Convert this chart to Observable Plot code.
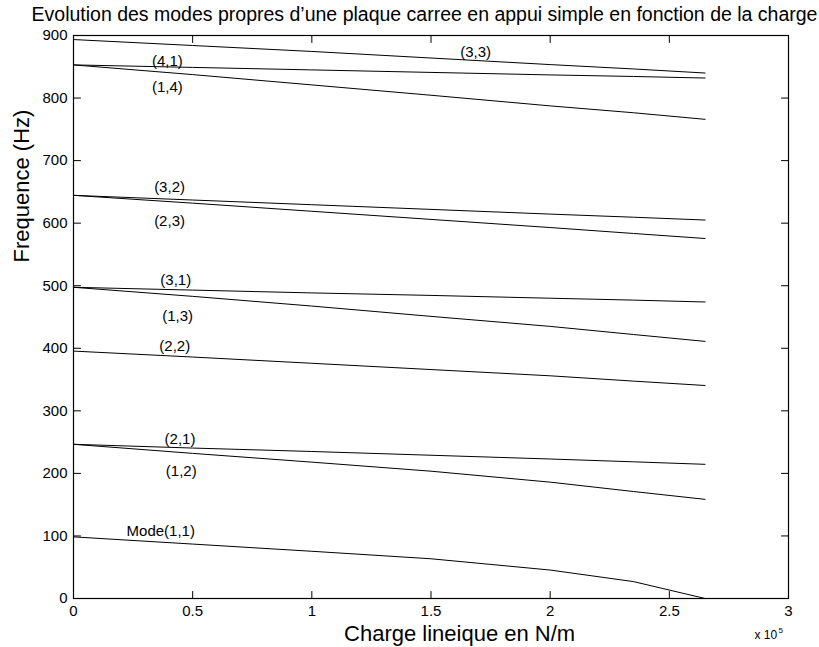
<!DOCTYPE html>
<html>
<head>
<meta charset="utf-8">
<script src="https://cdn.jsdelivr.net/npm/d3@7"></script>
<script src="https://cdn.jsdelivr.net/npm/@observablehq/plot@0.6"></script>
<style>
  body { margin: 0; background: #fff; }
  #chart svg { font-family: "Liberation Sans", Arial, Helvetica, sans-serif; display: block; }
</style>
</head>
<body>
<div id="chart"></div>
<script>
// Charge lineique (x 10^5 N/m)
const load = [0, 0.5, 1, 1.5, 2, 2.35, 2.65];

// Frequences (Hz) of each mode at those loads
const modeNames = ["(1,1)", "(2,1)", "(1,2)", "(2,2)", "(3,1)", "(1,3)", "(3,2)", "(2,3)", "(4,1)", "(1,4)", "(3,3)"];
const f11 = [98.5, 87, 75.5, 63.5, 45.5, 27, 0];
const f21 = [246.5, 240.5, 235, 229, 223, 218.5, 214.5];
const f12 = [246.5, 232, 218, 203.5, 186, 171, 158.5];
const f22 = [395.5, 386, 376, 366, 356, 347.5, 340.5];
const f31 = [497.5, 493, 488.5, 484.5, 480, 477, 474];
const f13 = [497.5, 483, 467.5, 451, 435, 422, 411];
const f32 = [644.5, 637, 629.5, 622, 614.5, 609.5, 605];
const f23 = [644.5, 632, 619, 606, 593, 583.5, 575.5];
const f41 = [853, 849, 845, 841, 837, 834.5, 832];
const f14 = [853, 837.5, 821, 804.5, 787.5, 776.5, 766];
const f33 = [893.5, 884, 874.5, 864, 853.5, 846.5, 840];

// In-plot annotations (data coordinates)
const labelText = ["(3,3)", "(4,1)", "(1,4)", "(3,2)", "(2,3)", "(3,1)", "(1,3)", "(2,2)", "(2,1)", "(1,2)", "Mode(1,1)"];
const labelX = [1.687, 0.394, 0.394, 0.403, 0.403, 0.429, 0.437, 0.425, 0.447, 0.452, 0.366];
const labelY = [873.6, 859.2, 816.6, 657.1, 602.9, 509.3, 451.7, 403.8, 255.2, 204.1, 108.2];

// Tick labels
const xTicks = [0, 0.5, 1, 1.5, 2, 2.5, 3];
const yTicks = [0, 100, 200, 300, 400, 500, 600, 700, 800, 900];

const titleText = "Evolution des modes propres d\u2019une plaque carree en appui simple en fonction de la charge";
const xLabel = "Charge lineique en N/m";
const yLabel = "Frequence (Hz)";

const series = [f11, f21, f12, f22, f31, f13, f32, f23, f41, f14, f33];
const rows = series.flatMap((s, k) => s.map((f, i) => ({mode: modeNames[k], load: load[i], freq: f})));

// inward tick shape: a plain segment of length l
const seg = {draw(context, l) { context.moveTo(0, 0); context.lineTo(0, -l); }};
const tickLen = 7;

const chart = Plot.plot({
  width: 819,
  height: 647,
  marginLeft: 73,
  marginRight: 31,
  marginTop: 35,
  marginBottom: 49,
  x: {domain: [0, 3]},
  y: {domain: [0, 900]},
  style: {background: "white", color: "black", fontFamily: "'Liberation Sans', Arial, sans-serif"},
  marks: [
    Plot.line(rows, {x: "load", y: "freq", z: "mode", stroke: "black", strokeWidth: 1}),
    Plot.text(labelText, {x: labelX, y: labelY, text: labelText, fontSize: 15, fill: "black", textAnchor: "middle", lineAnchor: "middle"}),
    Plot.frame({stroke: "black", strokeWidth: 1.2}),
    // tick labels
    Plot.axisX({ticks: xTicks, tickSize: 0, tickPadding: 7, fontSize: 15, label: null, tickFormat: d => String(d)}),
    Plot.axisY({ticks: yTicks, tickSize: 0, tickPadding: 6, fontSize: 15, label: null, tickFormat: d => String(d)}),
    // inward ticks on all four sides
    Plot.vector(xTicks, {x: d => d, frameAnchor: "bottom", length: tickLen, rotate: 0, anchor: "start", shape: seg, stroke: "black", strokeWidth: 1}),
    Plot.vector(xTicks, {x: d => d, frameAnchor: "top", length: tickLen, rotate: 180, anchor: "start", shape: seg, stroke: "black", strokeWidth: 1}),
    Plot.vector(yTicks, {y: d => d, frameAnchor: "left", length: tickLen, rotate: 90, anchor: "start", shape: seg, stroke: "black", strokeWidth: 1}),
    Plot.vector(yTicks, {y: d => d, frameAnchor: "right", length: tickLen, rotate: 270, anchor: "start", shape: seg, stroke: "black", strokeWidth: 1}),
    // titles
    Plot.text([titleText], {frameAnchor: "top", textAnchor: "middle", lineAnchor: "middle", dx: -6.5, dy: -21, fontSize: 19.5, fill: "black"}),
    Plot.text([xLabel], {frameAnchor: "bottom", textAnchor: "middle", lineAnchor: "middle", dx: 28.6, dy: 35, fontSize: 22, fill: "black"}),
    Plot.text([yLabel], {frameAnchor: "left", textAnchor: "middle", lineAnchor: "middle", rotate: -90, dx: -52, dy: -131, fontSize: 22, fill: "black"}),
    Plot.text(["x 10"], {frameAnchor: "bottom-right", textAnchor: "end", lineAnchor: "middle", dx: -11.3, dy: 36.5, fontSize: 12, fill: "black"}),
    Plot.text(["5"], {frameAnchor: "bottom-right", textAnchor: "start", lineAnchor: "middle", dx: -10, dy: 32, fontSize: 8, fill: "black"})
  ]
});
document.getElementById("chart").appendChild(chart);
</script>
</body>
</html>
